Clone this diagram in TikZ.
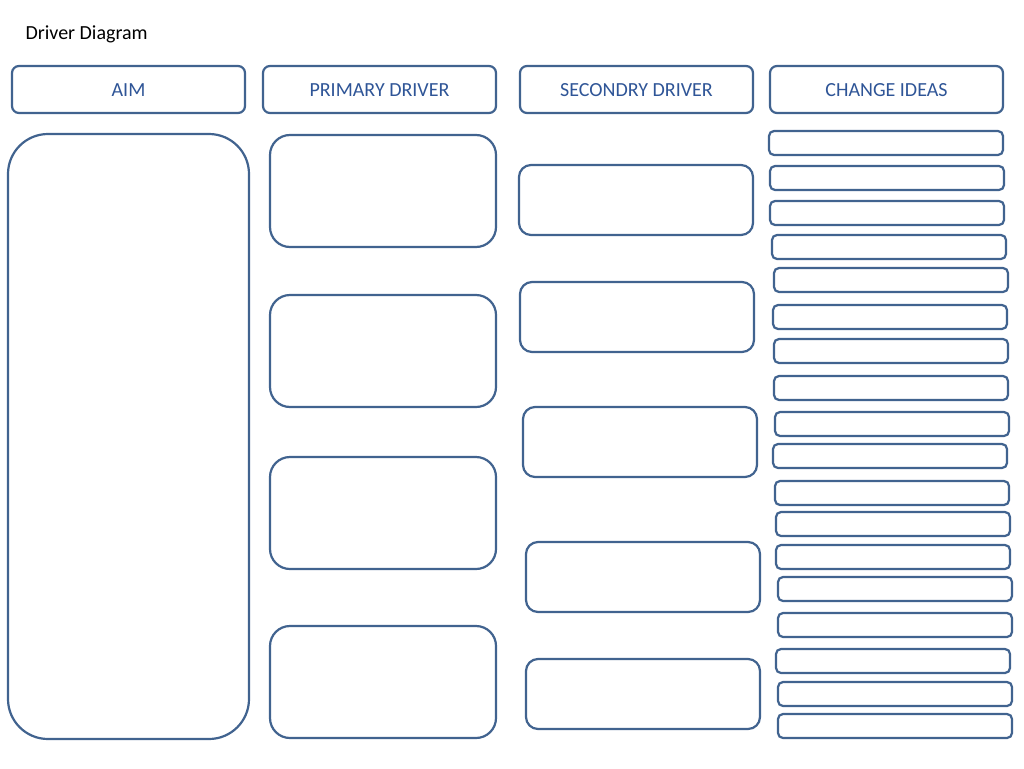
\documentclass[tikz,border=0pt]{standalone}
\usepackage{fontspec}
\setmainfont{Carlito}
\definecolor{bord}{HTML}{41638F}
\definecolor{txt}{HTML}{2F5597}
\begin{document}
\begin{tikzpicture}[x=1pt,y=-1pt,
  box/.style={draw=bord,line width=2.2pt,fill=white},
  hdr/.style={box,rounded corners=7pt},
  pbox/.style={box,rounded corners=20pt},
  sbox/.style={box,rounded corners=12pt},
  cbox/.style={box,rounded corners=5pt}]
\useasboundingbox (0,0) rectangle (1024,768);
\node[anchor=west,font=\fontsize{20}{24}\selectfont] (title) at (22,34) {Driver Diagram};
\foreach \x/\t/\n in {12/AIM/h1,263/PRIMARY DRIVER/h2,520/SECONDRY DRIVER/h3,770/CHANGE IDEAS/h4}{
  \draw[hdr] (\x,66) rectangle ++(233,47);
  \node[text=txt,font=\fontsize{20}{24}\selectfont] (\n) at (\x+116.5,90) {\t};
}
\draw[box,rounded corners=40pt] (8,134) rectangle (249,739);
\foreach \y in {135,295,457,626}{\draw[pbox] (270,\y) rectangle ++(226,112);}
\foreach \x/\y in {519/165,520/282,523/407,526/542,526/659}{\draw[sbox] (\x,\y) rectangle ++(234,70);}
\foreach \x/\y in {769/131,770/166,770/201,772/235,774/268,773/305,774/339,774/376,775/412,773/444,775/481,776/512,776/545,778/577,778/613,776/649,778/682,778/714}{
  \draw[cbox] (\x,\y) rectangle ++(234,24);}
\end{tikzpicture}
\end{document}
